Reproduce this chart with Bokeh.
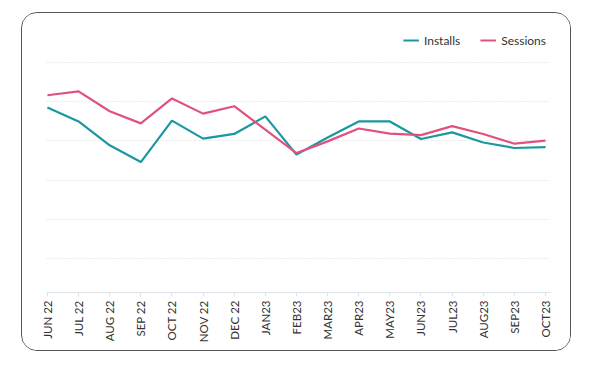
from bokeh.plotting import figure
from bokeh.models import FixedTicker, Legend, LegendItem
from bokeh.embed import file_html
from bokeh.resources import INLINE

months = ["JUN 22", "JUL 22", "AUG 22", "SEP 22", "OCT 22", "NOV 22", "DEC 22",
          "JAN23", "FEB23", "MAR23", "APR23", "MAY23", "JUN23", "JUL23",
          "AUG23", "SEP23", "OCT23"]
installs = [48.6, 45.0, 38.9, 34.6, 45.2, 40.6, 41.8, 46.3, 36.5, 40.9,
            45.0, 45.0, 40.5, 42.2, 39.6, 38.2, 38.4]
sessions = [51.7, 52.7, 47.6, 44.5, 50.9, 47.0, 48.9, 42.9, 36.9, 39.9,
            43.2, 41.9, 41.5, 43.8, 41.8, 39.3, 40.1]
grid_values = [10, 20, 30, 40, 50, 60]

TEAL = "#1b97a1"
PINK = "#e0527d"
FONT = "Lato"

xs = list(range(len(months)))

p = figure(width=547, height=336, output_backend="svg", toolbar_location=None,
           x_range=(-0.03, 16.16), y_range=(1.2, 68.8),
           min_border_left=24, min_border_right=22, min_border_top=15,
           min_border_bottom=60, background_fill_color="white",
           border_fill_color="white", outline_line_color=None)
p.margin = (12, 0, 0, 21)
p.styles = {"border": "1.5px solid #555555", "border-radius": "16px",
            "box-sizing": "border-box", "width": "550px", "height": "339px",
            "overflow": "hidden"}

r1 = p.line(xs, installs, line_color=TEAL, line_width=2.2)
r2 = p.line(xs, sessions, line_color=PINK, line_width=2.2)

p.yaxis.visible = False
p.ygrid.ticker = FixedTicker(ticks=grid_values)
p.ygrid.grid_line_color = "#d9d9d9"
p.ygrid.grid_line_dash = "1 2"
p.ygrid.grid_line_width = 1
p.xgrid.grid_line_color = None

xa = p.xaxis[0]
xa.ticker = FixedTicker(ticks=xs)
xa.major_label_overrides = {i: m for i, m in enumerate(months)}
xa.major_label_orientation = 1.5708
xa.major_label_text_font = FONT
xa.major_label_text_font_size = "11.5px"
xa.major_label_text_color = "#333333"
xa.major_label_standoff = 4
xa.axis_line_color = "#dfe3e8"
xa.major_tick_line_color = "#dfe3e8"
xa.major_tick_out = 4
xa.major_tick_in = 0
xa.minor_tick_line_color = None

legend = Legend(items=[LegendItem(label="Installs", renderers=[r1]),
                       LegendItem(label="Sessions", renderers=[r2])],
                location="top_right", orientation="horizontal",
                label_text_font=FONT, label_text_font_size="12px",
                label_text_color="#333333", glyph_width=16, glyph_height=16,
                label_standoff=5, spacing=20, padding=0, margin=4,
                background_fill_alpha=0, border_line_color=None)
p.add_layout(legend)

open("out.html", "w").write(file_html(p, INLINE))
